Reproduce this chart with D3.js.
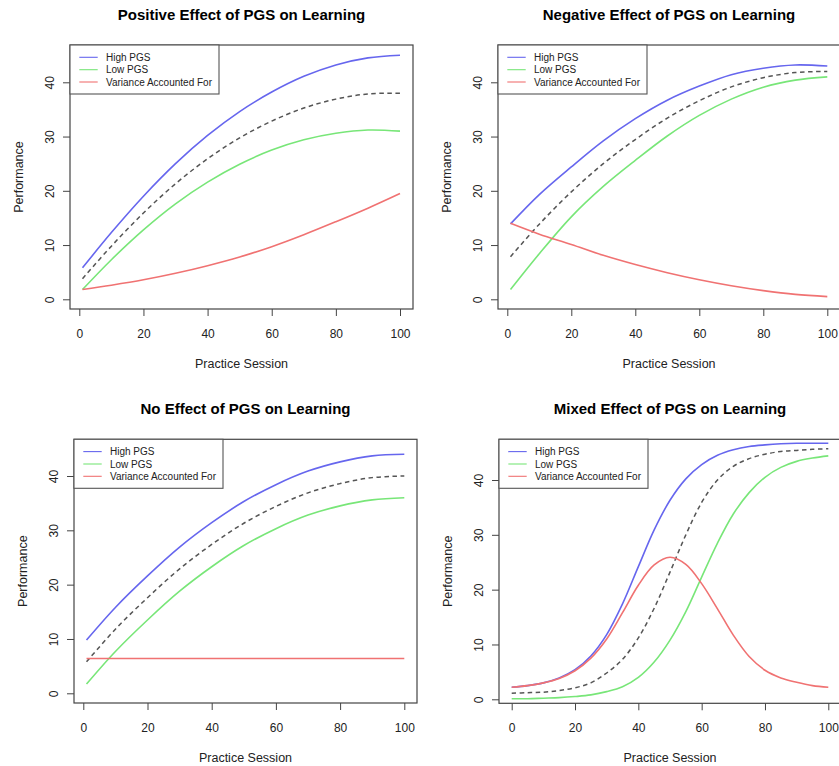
<!DOCTYPE html>
<html>
<head>
<meta charset="utf-8">
<style>
  body { margin: 0; background: #fff; }
  svg { display: block; font-family: "Liberation Sans", Arial, Helvetica, sans-serif; }
  .title { font-size: 15px; font-weight: bold; fill: #000; }
  .tick text { font-size: 12px; fill: #222; }
  .tick line { stroke: #444; }
  .axlab { font-size: 12.5px; fill: #222; }
  .legend text { font-size: 10px; fill: #222; }
</style>
</head>
<body>
<svg id="chart" width="839" height="766"></svg>
<script src="https://d3js.org/d3.v7.min.js"></script>
<script>
// practice sessions (x values)
const sessions = [1, 10, 20, 30, 40, 50, 60, 70, 80, 90, 100];
const sessionsMixed = [0, 5, 10, 15, 20, 25, 30, 35, 40, 45, 50, 55, 60, 65, 70, 75, 80, 85, 90, 95, 100];

const xTicks = [0, 20, 40, 60, 80, 100];
const yTicks = [0, 10, 20, 30, 40];
const legendLabels = ["High PGS", "Low PGS", "Variance Accounted For"];

// positive effect
const posHigh = [5.8, 12.3, 19.0, 25.0, 30.2, 34.6, 38.2, 41.1, 43.2, 44.5, 45.0];
const posLow  = [1.8, 7.3, 12.8, 17.6, 21.6, 24.9, 27.5, 29.4, 30.6, 31.2, 31.0];
const posMean = [3.8, 9.8, 15.9, 21.3, 25.9, 29.75, 32.85, 35.25, 36.9, 37.85, 38.0];
const posVar  = [1.8, 2.6, 3.6, 4.8, 6.2, 7.8, 9.7, 11.9, 14.3, 16.8, 19.5];

// negative effect
const negHigh = [13.9, 19.3, 24.4, 29.2, 33.3, 36.7, 39.3, 41.4, 42.6, 43.2, 43.0];
const negLow  = [1.8, 8.4, 15.2, 20.8, 25.6, 30.1, 33.9, 36.9, 39.1, 40.4, 41.0];
const negMean = [7.85, 13.85, 19.8, 25.0, 29.45, 33.4, 36.6, 39.15, 40.85, 41.8, 42.0];
const negVar  = [14.0, 12.0, 10.1, 8.1, 6.4, 4.9, 3.6, 2.5, 1.6, 0.9, 0.5];

// no effect
const noHigh = [9.8, 15.8, 21.6, 26.9, 31.4, 35.3, 38.4, 40.9, 42.6, 43.7, 44.0];
const noLow  = [1.7, 7.7, 13.5, 18.8, 23.3, 27.2, 30.3, 32.8, 34.5, 35.6, 36.0];
const noMean = [5.8, 11.8, 17.6, 22.9, 27.4, 31.3, 34.4, 36.9, 38.6, 39.7, 40.0];
const noVar  = [6.4, 6.4, 6.4, 6.4, 6.4, 6.4, 6.4, 6.4, 6.4, 6.4, 6.4];

// mixed effect
const mixHigh = [2.2, 2.5, 3.0, 3.9, 5.4, 7.9, 11.8, 17.4, 24.2, 30.9, 36.3, 40.2, 42.8, 44.5, 45.5, 46.1, 46.4, 46.6, 46.7, 46.7, 46.7];
const mixLow  = [0.1, 0.1, 0.2, 0.3, 0.5, 0.8, 1.4, 2.3, 4.0, 6.8, 10.8, 16.0, 22.3, 28.5, 33.8, 37.7, 40.5, 42.3, 43.4, 44.0, 44.4];
const mixMean = [1.1, 1.2, 1.3, 1.6, 2.1, 3.0, 4.8, 7.3, 11.2, 16.6, 23.2, 30.0, 35.9, 40.0, 42.5, 43.9, 44.7, 45.2, 45.4, 45.6, 45.7];
const mixVar  = [2.2, 2.5, 3.0, 3.8, 5.2, 7.5, 11.0, 15.8, 20.8, 24.5, 25.9, 24.6, 21.1, 16.5, 11.7, 7.8, 5.3, 3.9, 3.1, 2.5, 2.2];

const colHigh = "#6666ee", colLow = "#78e678", colVar = "#f07272", colMean = "#555";

// panel layout: box = [left, top, right, bottom], xPix = pixels of x 0 / 100, yPix = pixels of y 0 / 40
const panels = [
  { title: "Positive Effect of PGS on Learning", x: sessions, high: posHigh, low: posLow, mean: posMean, vaf: posVar,
    box: [70, 45, 413, 309], xPix: [79.3, 400], yPix: [299.3, 82.3] },
  { title: "Negative Effect of PGS on Learning", x: sessions, high: negHigh, low: negLow, mean: negMean, vaf: negVar,
    box: [498, 45, 840, 309], xPix: [507.3, 827.3], yPix: [299.3, 82.3] },
  { title: "No Effect of PGS on Learning", x: sessions, high: noHigh, low: noLow, mean: noMean, vaf: noVar,
    box: [74, 439.3, 417, 703], xPix: [83.3, 404.3], yPix: [693.3, 476] },
  { title: "Mixed Effect of PGS on Learning", x: sessionsMixed, high: mixHigh, low: mixLow, mean: mixMean, vaf: mixVar,
    box: [499, 439.3, 841, 703.3], xPix: [511.7, 828.3], yPix: [699.3, 480] }
];

const svg = d3.select("#chart");

panels.forEach(p => {
  const [l, t, r, b] = p.box;
  const g = svg.append("g");
  const x = d3.scaleLinear().domain([0, 100]).range(p.xPix);
  const y = d3.scaleLinear().domain([0, 40]).range(p.yPix);

  // title
  g.append("text").attr("class", "title")
    .attr("x", (l + r) / 2).attr("y", t - 25)
    .attr("text-anchor", "middle").text(p.title);

  // x axis
  const xa = g.append("g").attr("transform", "translate(0," + b + ")")
    .call(d3.axisBottom(x).tickValues(xTicks).tickSize(7).tickFormat(d3.format("d")));
  xa.select(".domain").remove();
  xa.selectAll(".tick text").attr("y", 28.5).attr("dy", 0);

  // y axis
  const ya = g.append("g").attr("transform", "translate(" + l + ",0)")
    .call(d3.axisLeft(y).tickValues(yTicks).tickSize(7).tickFormat(d3.format("d")));
  ya.select(".domain").remove();
  ya.selectAll(".tick text")
    .attr("transform", "rotate(-90)")
    .attr("x", 0).attr("y", -16.5).attr("dy", 0)
    .attr("text-anchor", "middle");

  // axis titles
  g.append("text").attr("class", "axlab")
    .attr("x", (l + r) / 2).attr("y", b + 58.5)
    .attr("text-anchor", "middle").text("Practice Session");
  g.append("text").attr("class", "axlab")
    .attr("transform", "translate(" + (l - 47.3) + "," + ((t + b) / 2) + ") rotate(-90)")
    .attr("text-anchor", "middle").text("Performance");

  // lines
  const line = d3.line()
    .x((d, i) => x(p.x[i]))
    .y(d => y(d))
    .curve(d3.curveCatmullRom.alpha(0.5));

  g.append("path").datum(p.high).attr("d", line)
    .attr("fill", "none").attr("stroke", colHigh).attr("stroke-width", 1.6);
  g.append("path").datum(p.low).attr("d", line)
    .attr("fill", "none").attr("stroke", colLow).attr("stroke-width", 1.6);
  g.append("path").datum(p.mean).attr("d", line)
    .attr("fill", "none").attr("stroke", colMean).attr("stroke-width", 1.5)
    .attr("stroke-dasharray", "4.5,3.5");
  g.append("path").datum(p.vaf).attr("d", line)
    .attr("fill", "none").attr("stroke", colVar).attr("stroke-width", 1.6);

  // plot box
  g.append("rect")
    .attr("x", l).attr("y", t).attr("width", r - l).attr("height", b - t)
    .attr("fill", "none").attr("stroke", "#444").attr("stroke-width", 1.2);

  // legend
  const lg = g.append("g").attr("class", "legend").attr("transform", "translate(" + l + "," + t + ")");
  lg.append("rect").attr("width", 149).attr("height", 49)
    .attr("fill", "#fff").attr("stroke", "#555").attr("stroke-width", 1.1);
  const rows = [12.3, 24.7, 37];
  const cols = [colHigh, colLow, colVar];
  legendLabels.forEach((lab, i) => {
    lg.append("line").attr("x1", 9.3).attr("x2", 27.7).attr("y1", rows[i]).attr("y2", rows[i])
      .attr("stroke", cols[i]).attr("stroke-width", 1.1);
    lg.append("text").attr("x", 36).attr("y", rows[i] + 3.6).text(lab);
  });
});
</script>
</body>
</html>
